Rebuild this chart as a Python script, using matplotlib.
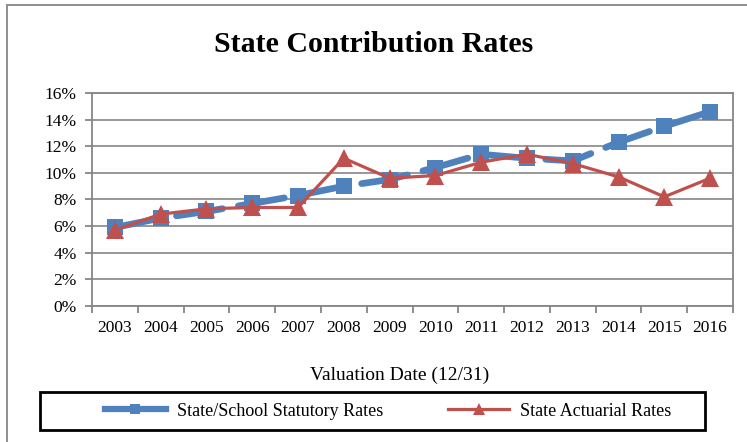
import numpy as np
import matplotlib
matplotlib.use('Agg')
from matplotlib import pyplot as plt
from matplotlib.patches import Rectangle
from matplotlib.lines import Line2D
import matplotlib.ticker as ticker

#------------------------------------------------------------------------
# Data -------------------------------------------------------------------
#------------------------------------------------------------------------
years = ['2003', '2004', '2005', '2006', '2007', '2008', '2009',
         '2010', '2011', '2012', '2013', '2014', '2015', '2016']
statutory = [5.9, 6.6, 7.1, 7.7, 8.3, 9.0, 9.5, 10.4, 11.4, 11.1, 10.9, 12.3, 13.5, 14.6]
actuarial = [5.7, 6.9, 7.3, 7.4, 7.4, 11.1, 9.6, 9.8, 10.8, 11.4, 10.7, 9.7, 8.2, 9.6]
y_ticks = [0, 2, 4, 6, 8, 10, 12, 14, 16]
labels = ['State/School Statutory Rates', 'State Actuarial Rates']

blue = '#4F81BD'
red = '#C0504D'
gray = '#868686'

plt.rcParams['font.family'] = ['Liberation Serif', 'DejaVu Serif']

W, H = 747, 442
fig = plt.figure(figsize=(W/100, H/100), dpi=100)

# outer chart border (continues past right / bottom edge)
fig.patches.append(Rectangle((7/W, -0.1), 1.0, (H-5)/H + 0.1, transform=fig.transFigure,
                             fill=False, edgecolor=gray, linewidth=1.3))

ax = fig.add_axes([92/W, 1 - 306/H, (733-92)/W, (306-93)/H])

x = np.arange(len(years))
ax.plot(x, statutory, color=blue, linewidth=4.8, linestyle=(0, (7, 2.4)),
        dash_capstyle='round', marker='s', markersize=12, markeredgewidth=0, zorder=3)
ax.plot(x, actuarial, color=red, linewidth=2.3, marker='^', markersize=13.5,
        markeredgewidth=0, zorder=4)

ax.set_xlim(-0.5, len(years) - 0.5)
ax.set_ylim(0, 16)
ax.set_yticks(y_ticks)
ax.yaxis.set_major_formatter(ticker.FuncFormatter(lambda v, p: '%d%%' % v))
ax.set_xticks(x)
ax.set_xticklabels(years)
ax.xaxis.set_minor_locator(ticker.FixedLocator(np.arange(-0.5, len(years), 1.0)))

ax.grid(axis='y', color=gray, linewidth=1.2, zorder=0)
ax.set_axisbelow(True)
for s in ax.spines.values():
    s.set_color(gray)
    s.set_linewidth(1.3)
ax.tick_params(axis='x', which='major', length=0, pad=10, labelsize=12.5)
ax.tick_params(axis='x', which='minor', length=5, color=gray, width=1.3)
ax.tick_params(axis='y', length=5, color=gray, width=1.3, pad=6, labelsize=12.5)

fig.text(0.5, 1 - 45/H, 'State Contribution Rates', ha='center', va='center',
         fontsize=21.5, fontweight='bold')
fig.text(400/W, 1 - 375/H, 'Valuation Date (12/31)', ha='center', va='center', fontsize=14)

# legend box
fig.patches.append(Rectangle((40/W, 1 - 430/H), 665/W, 38/H, transform=fig.transFigure,
                             fill=False, edgecolor='black', linewidth=2))
handles = [Line2D([], [], color=blue, linewidth=4.5, marker='s', markersize=7, markeredgewidth=0),
           Line2D([], [], color=red, linewidth=2.3, marker='^', markersize=8, markeredgewidth=0)]
fig.legend(handles, labels, loc='center', bbox_to_anchor=(388/W, 1 - 411/H), ncol=2,
           frameon=False, fontsize=13, handlelength=3.4, handletextpad=0.6, columnspacing=3.6)

plt.savefig('out.png', dpi=100)
